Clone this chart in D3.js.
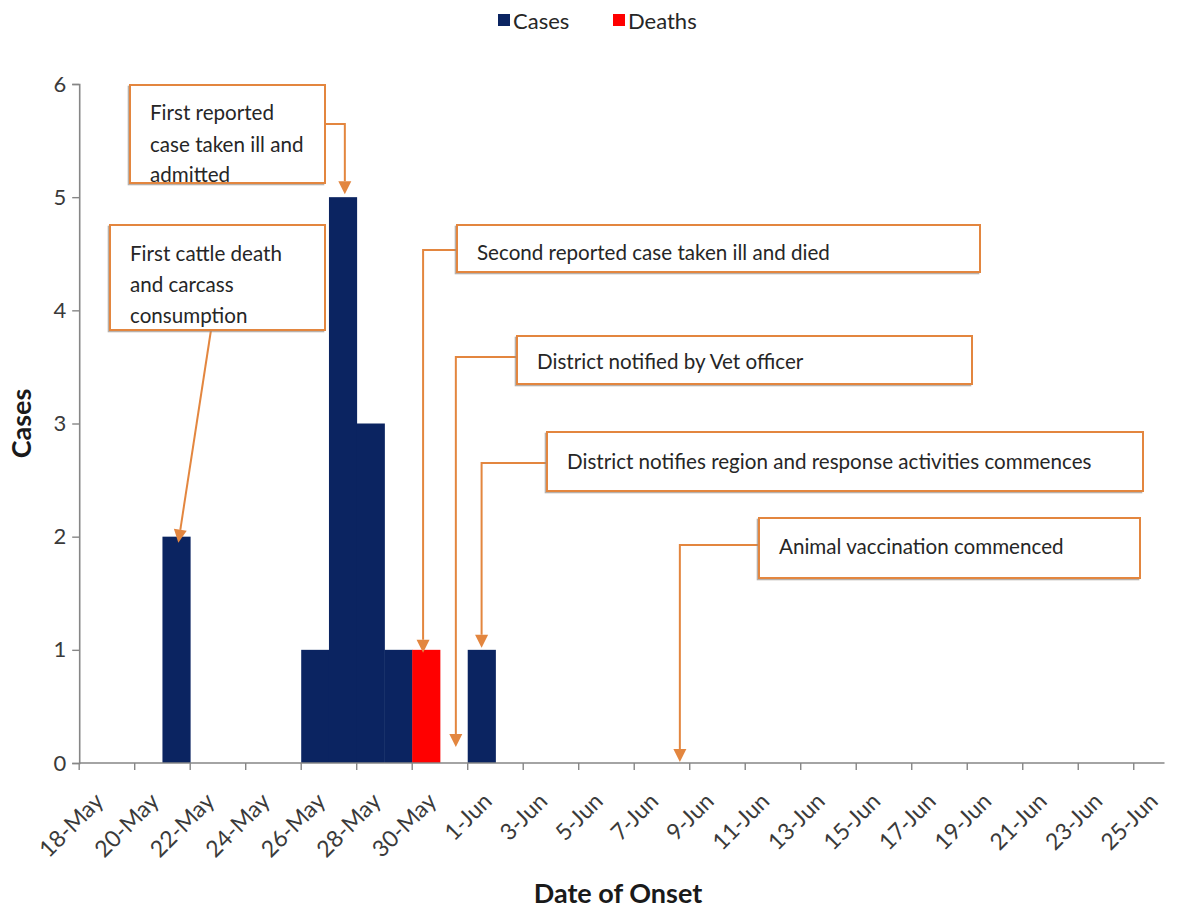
<!DOCTYPE html>
<html>
<head>
<meta charset="utf-8">
<script src="https://cdn.jsdelivr.net/npm/d3@7"></script>
<style>
  html, body { margin: 0; padding: 0; background: #ffffff; }
  svg { display: block; font-family: Lato, "Open Sans", sans-serif; }
</style>
</head>
<body>
<svg id="chart" width="1184" height="911"></svg>
<script>
// ---- Data -------------------------------------------------------------
// One category per calendar day of onset
const dates = [
  "18-May","19-May","20-May","21-May","22-May","23-May","24-May","25-May",
  "26-May","27-May","28-May","29-May","30-May","31-May",
  "1-Jun","2-Jun","3-Jun","4-Jun","5-Jun","6-Jun","7-Jun","8-Jun","9-Jun",
  "10-Jun","11-Jun","12-Jun","13-Jun","14-Jun","15-Jun","16-Jun","17-Jun",
  "18-Jun","19-Jun","20-Jun","21-Jun","22-Jun","23-Jun","24-Jun","25-Jun"
];
// Daily counts (same order as dates)
const cases = [
  0,0,0,2,0,0,0,0,
  1,5,3,1,0,0,
  1,0,0,0,0,0,0,0,0,
  0,0,0,0,0,0,0,0,
  0,0,0,0,0,0,0,0
];
const deaths = [
  0,0,0,0,0,0,0,0,
  0,0,0,0,1,0,
  0,0,0,0,0,0,0,0,0,
  0,0,0,0,0,0,0,0,
  0,0,0,0,0,0,0,0
];
// Labelled dates on the x axis (every second day)
const xTickLabels = [
  "18-May","20-May","22-May","24-May","26-May","28-May","30-May",
  "1-Jun","3-Jun","5-Jun","7-Jun","9-Jun","11-Jun","13-Jun","15-Jun",
  "17-Jun","19-Jun","21-Jun","23-Jun","25-Jun"
];
const yTicks = [0, 1, 2, 3, 4, 5, 6];
const seriesNames = ["Cases", "Deaths"];

// Timeline events: the day each one points at and the count it points to
const eventDates  = ["27-May", "21-May", "30-May", "31-May", "1-Jun", "8-Jun"];
const eventValues = [5, 2, 1, 0, 1, 0];
const eventTexts  = [
  ["First reported", "case taken ill and", "admitted"],
  ["First cattle death", "and carcass", "consumption"],
  ["Second reported case taken ill and died"],
  ["District notified by Vet officer"],
  ["District notifies region and response activities commences"],
  ["Animal vaccination commenced"]
];

// ---- Styles & layout --------------------------------------------------
const colors = { Cases: "#0b2461", Deaths: "#ff0000" };
const axisColor = "#868686";
const calloutColor = "#e3863f";
const textColor = "#262626";

const plot = { left: 79.2, right: 1161.5, top: 84, bottom: 763 };

const svg = d3.select("#chart");

// ---- Scales -----------------------------------------------------------
const x = d3.scaleBand()
  .domain(dates)
  .range([plot.left, plot.right])
  .paddingInner(0)
  .paddingOuter(0);

const y = d3.scaleLinear()
  .domain([0, 6])
  .range([plot.bottom, plot.top]);

// ---- Bars (stacked cases + deaths) ------------------------------------
const rows = dates.map((d, i) => ({ date: d, Cases: cases[i], Deaths: deaths[i] }));
const stacked = d3.stack().keys(seriesNames)(rows);

svg.append("g")
  .selectAll("g")
  .data(stacked)
  .join("g")
  .attr("fill", s => colors[s.key])
  .selectAll("rect")
  .data(s => s.filter(p => p[1] - p[0] > 0))
  .join("rect")
  .attr("x", p => x(p.data.date))
  .attr("width", x.bandwidth() + 0.4)
  .attr("y", p => y(p[1]))
  .attr("height", p => y(p[0]) - y(p[1]));

// ---- Axes -------------------------------------------------------------
// y axis
const yAxis = svg.append("g")
  .attr("transform", `translate(${plot.left},0)`)
  .call(d3.axisLeft(y).tickValues(yTicks).tickFormat(d3.format("d")).tickSize(7).tickPadding(6));
yAxis.select(".domain").attr("stroke", axisColor).attr("stroke-width", 1.6);
yAxis.selectAll(".tick line").attr("stroke", axisColor).attr("stroke-width", 1.4);
yAxis.selectAll(".tick text")
  .attr("fill", "#3a3a3a")
  .style("font-size", "22px")
  .style("font-family", "Lato, sans-serif");

// x axis: ticks at the start of every second day, labels centred on the day
const tickDates = xTickLabels;
const xAxisG = svg.append("g").attr("transform", `translate(0,${plot.bottom})`);
xAxisG.append("line")
  .attr("x1", plot.left).attr("x2", plot.right + 3)
  .attr("y1", 0).attr("y2", 0)
  .attr("stroke", axisColor).attr("stroke-width", 1.6);
xAxisG.selectAll("line.tick")
  .data(tickDates)
  .join("line")
  .attr("class", "tick")
  .attr("x1", d => x(d)).attr("x2", d => x(d))
  .attr("y1", 0).attr("y2", 7)
  .attr("stroke", axisColor).attr("stroke-width", 1.4);
xAxisG.selectAll("text.tick-label")
  .data(tickDates)
  .join("text")
  .attr("class", "tick-label")
  .attr("transform", d => `translate(${x(d) + x.bandwidth() / 2 + 6},${34}) rotate(-45)`)
  .attr("text-anchor", "end")
  .attr("dy", "0.35em")
  .attr("fill", "#3a3a3a")
  .style("font-size", "23px")
  .text(d => d);

// Axis titles
svg.append("text")
  .attr("transform", `translate(31,${(plot.top + plot.bottom) / 2}) rotate(-90)`)
  .attr("text-anchor", "middle")
  .attr("fill", "#1a1a1a")
  .style("font-size", "27px")
  .style("font-weight", "bold")
  .text("Cases");

svg.append("text")
  .attr("x", 618)
  .attr("y", 903)
  .attr("text-anchor", "middle")
  .attr("fill", "#1a1a1a")
  .style("font-size", "27px")
  .style("font-weight", "bold")
  .text("Date of Onset");

// ---- Legend -----------------------------------------------------------
const legendItems = [
  { key: "Cases", sx: 498, tx: 513 },
  { key: "Deaths", sx: 613, tx: 628 }
];
const legend = svg.append("g");
legend.selectAll("rect")
  .data(legendItems)
  .join("rect")
  .attr("x", d => d.sx).attr("y", 14)
  .attr("width", 12).attr("height", 12)
  .attr("fill", d => colors[d.key]);
legend.selectAll("text")
  .data(legendItems)
  .join("text")
  .attr("x", d => d.tx).attr("y", 29)
  .attr("fill", textColor)
  .style("font-size", "22px")
  .text(d => d.key);

// ---- Event callouts ---------------------------------------------------
// Box geometry and connector routing for each event
const calloutLayout = [
  { x: 130, y: 85,  w: 195, h: 98,  tx: 150, ty: [120, 152, 182], route: "right", elbowY: 124, dx: 2,  dy: -3 },
  { x: 110, y: 225, w: 215, h: 105, tx: 130, ty: [261, 292, 323], route: "straight", startX: 211, dx: 2, dy: 6 },
  { x: 457, y: 225, w: 523, h: 47,  tx: 477, ty: [260], route: "left", elbowY: 250, dx: -3, dy: 3 },
  { x: 517, y: 336, w: 455, h: 48,  tx: 537, ty: [369], route: "left", elbowY: 357, dx: 2,  dy: -16 },
  { x: 547, y: 432, w: 596, h: 59,  tx: 567, ty: [469], route: "left", elbowY: 463, dx: 0,  dy: -2 },
  { x: 759, y: 518, w: 381, h: 60,  tx: 779, ty: [554], route: "left", elbowY: 545, dx: 4,  dy: -1 }
];

const arrowLen = 13, arrowHalf = 6.5;
const callouts = svg.append("g");

eventDates.forEach((d, i) => {
  const L = calloutLayout[i];
  const tipX = x(d) + x.bandwidth() / 2 + L.dx;
  const tipY = y(eventValues[i]) + L.dy;
  const g = callouts.append("g");

  // connector
  let pts, dirX = 0, dirY = 1;
  if (L.route === "straight") {
    const sx = L.startX, sy = L.y + L.h;
    const len = Math.hypot(tipX - sx, tipY - sy);
    dirX = (tipX - sx) / len; dirY = (tipY - sy) / len;
    pts = [[sx, sy], [tipX - dirX * arrowLen, tipY - dirY * arrowLen]];
  } else {
    const sx = L.route === "left" ? L.x : L.x + L.w;
    pts = [[sx, L.elbowY], [tipX, L.elbowY], [tipX, tipY - arrowLen]];
  }
  g.append("path")
    .attr("d", d3.line()(pts))
    .attr("fill", "none")
    .attr("stroke", calloutColor)
    .attr("stroke-width", 2);
  // arrow head
  const bx = tipX - dirX * arrowLen, by = tipY - dirY * arrowLen;
  const px = -dirY, py = dirX;
  g.append("path")
    .attr("d", d3.line()([
      [tipX, tipY],
      [bx + px * arrowHalf, by + py * arrowHalf],
      [bx - px * arrowHalf, by - py * arrowHalf]
    ]) + "Z")
    .attr("fill", calloutColor);

  // box with soft shadow
  g.append("rect")
    .attr("x", L.x - 1.5).attr("y", L.y + 1.5)
    .attr("width", L.w).attr("height", L.h)
    .attr("fill", "none")
    .attr("stroke", "#9a8f86").attr("stroke-width", 1.6).attr("opacity", 0.7);
  g.append("rect")
    .attr("x", L.x).attr("y", L.y)
    .attr("width", L.w).attr("height", L.h)
    .attr("fill", "#ffffff")
    .attr("stroke", calloutColor).attr("stroke-width", 2);

  g.selectAll("text")
    .data(eventTexts[i])
    .join("text")
    .attr("x", L.tx)
    .attr("y", (t, j) => L.ty[j])
    .attr("fill", textColor)
    .style("font-size", "20.6px")
    .text(t => t);
});
</script>
</body>
</html>
